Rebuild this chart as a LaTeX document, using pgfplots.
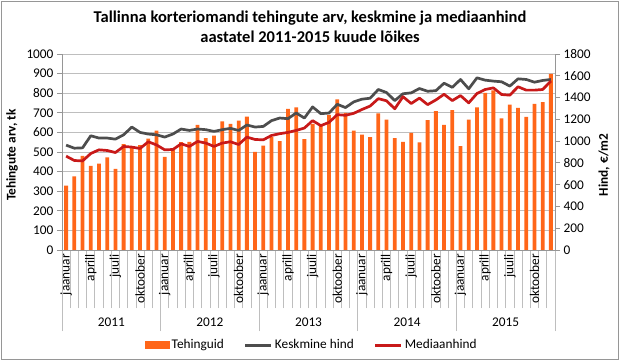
\documentclass[border=0pt]{standalone}
\usepackage{fontspec}
\setmainfont{Carlito}
\usepackage{pgfplots}
\usepackage{pgfplotstable}
\pgfplotsset{compat=1.18}
\definecolor{barc}{RGB}{255,102,25}
\definecolor{avgc}{RGB}{77,77,77}
\definecolor{medc}{RGB}{200,25,25}
\definecolor{gridc}{RGB}{190,190,190}
\definecolor{axc}{RGB}{150,150,150}
\pgfplotstableread{
i n avg med
0 328 963 862
1 376 935 822
2 480 938 818
3 429 1049 886
4 441 1028 920
5 473 1028 914
6 414 1018 895
7 540 1058 951
8 526 1129 945
9 535 1080 932
10 568 1065 994
11 609 1058 965
12 475 1037 920
13 511 1065 923
14 550 1111 975
15 552 1098 951
16 639 1111 997
17 571 1105 982
18 583 1089 951
19 656 1105 982
20 644 1117 994
21 660 1098 969
22 680 1148 1037
23 501 1129 1015
24 532 1135 1012
25 576 1188 1052
26 556 1212 1068
27 720 1206 1080
28 728 1258 1098
29 566 1212 1120
30 644 1314 1188
31 638 1252 1142
32 689 1258 1172
33 768 1338 1243
34 699 1308 1237
35 609 1360 1255
36 588 1385 1290
37 576 1394 1322
38 697 1474 1390
39 665 1446 1370
40 571 1372 1297
41 552 1435 1408
42 598 1443 1345
43 549 1483 1395
44 663 1458 1335
45 709 1463 1378
46 638 1532 1430
47 713 1494 1372
48 530 1566 1418
49 665 1480 1351
50 728 1581 1437
51 802 1560 1474
52 814 1551 1489
53 672 1545 1428
54 742 1505 1422
55 725 1572 1499
56 679 1566 1468
57 745 1541 1468
58 754 1557 1474
59 899 1566 1551
}\data
\newcommand{\fs}{\fontsize{13.3}{16}\selectfont}
\begin{document}
\begin{tikzpicture}[x=1pt,y=1pt]
\fill[white] (0,0) rectangle (620,361);
\draw[axc, line width=0.8pt] (1.5,1.5) rectangle (618.5,359.5);
\node[font=\fontsize{16.5}{20}\selectfont\bfseries, align=center] at (310,334) {Tallinna korteriomandi tehingute arv, keskmine ja mediaanhind\\aastatel 2011-2015 kuude lõikes};
% category separator ticks
\begin{axis}[at={(62pt,111pt)}, anchor=south west, width=493pt, height=196pt, scale only axis,
  xmin=-0.5, xmax=59.5, ymin=0, ymax=1,
  hide y axis, axis x line*=bottom, x axis line style={axc, line width=0.8pt},
  xtick={-0.5,11.5,23.5,35.5,47.5,59.5}, xticklabels={},
  minor xtick={-0.5,0.5,...,59.5},
  tick align=outside, major tick length=81pt, minor tick length=58pt,
  tick style={gridc, line width=0.8pt}]
\end{axis}
\begin{axis}[at={(62pt,111pt)}, anchor=south west, width=493pt, height=196pt, scale only axis,
  xmin=-0.5, xmax=59.5, ymin=0, ymax=1000, ytick={0,100,...,1000},
  axis y line*=left, axis x line*=bottom,
  axis line style={axc, line width=0.8pt},
  ymajorgrids, grid style={gridc, line width=0.8pt},
  xtick={0,3,...,57}, xtick style={draw=none},
  ytick style={axc, line width=0.8pt}, tick align=outside, major tick length=5pt,
  xticklabels={jaanuar,aprill,juuli,oktoober,jaanuar,aprill,juuli,oktoober,jaanuar,aprill,juuli,oktoober,jaanuar,aprill,juuli,oktoober,jaanuar,aprill,juuli,oktoober},
  x tick label style={rotate=90, anchor=east, font=\fs, inner sep=1pt, xshift=2pt},
  y tick label style={font=\fs},
  /pgf/number format/assume math mode=true, /pgf/number format/1000 sep={},
  ylabel={\bfseries Tehingute arv, tk},
  ylabel style={at={(axis description cs:-0.1014,0.485)}, anchor=center, font=\fs},
  clip=false]
\addplot[ybar, bar width=3.8pt, fill=barc, draw=none] table[x=i, y=n] {\data};
\node[font=\fs] at (axis cs:5.5,0) [yshift=-72pt] {2011};
\node[font=\fs] at (axis cs:17.5,0) [yshift=-72pt] {2012};
\node[font=\fs] at (axis cs:29.5,0) [yshift=-72pt] {2013};
\node[font=\fs] at (axis cs:41.5,0) [yshift=-72pt] {2014};
\node[font=\fs] at (axis cs:53.5,0) [yshift=-72pt] {2015};
\end{axis}
\begin{axis}[at={(62pt,111pt)}, anchor=south west, width=493pt, height=196pt, scale only axis,
  xmin=-0.5, xmax=59.5, ymin=0, ymax=1800, ytick={0,200,...,1800},
  axis y line*=right, axis x line=none,
  axis line style={axc, line width=0.8pt},
  ytick style={axc, line width=0.8pt}, tick align=outside, major tick length=5pt,
  y tick label style={font=\fs},
  /pgf/number format/assume math mode=true, /pgf/number format/1000 sep={},
  ylabel={\bfseries Hind, €/m2},
  ylabel style={at={(axis description cs:1.0994,0.434)}, anchor=center, font=\fs},
  legend columns=3,
  legend style={draw=none, font=\fs, at={(axis description cs:0.507,-0.4847)}, anchor=center,
    /tikz/every odd column/.append style={column sep=0pt},
    /tikz/every even column/.append style={column sep=18pt}},
  clip=false]
\addlegendimage{legend image code/.code={\fill[barc] (0pt,-3.5pt) rectangle (24pt,3.5pt);}}
\addlegendentry{Tehinguid}
\addplot[avgc, line width=2.7pt, line join=round, legend image code/.code={\draw[avgc, line width=3pt] (0pt,0pt) -- (26pt,0pt);}] table[x=i, y=avg] {\data};
\addlegendentry{Keskmine hind}
\addplot[medc, line width=2.7pt, line join=round, legend image code/.code={\draw[medc, line width=3pt] (0pt,0pt) -- (26pt,0pt);}] table[x=i, y=med] {\data};
\addlegendentry{Mediaanhind}
\end{axis}
\end{tikzpicture}
\end{document}
